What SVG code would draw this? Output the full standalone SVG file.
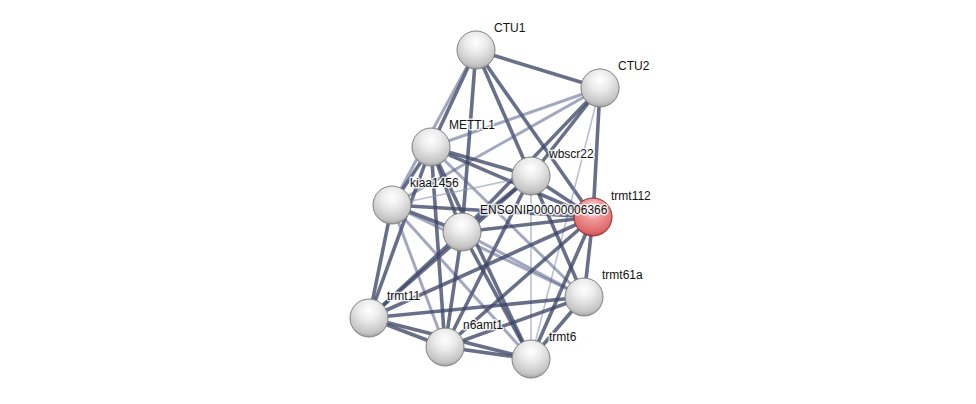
<svg xmlns="http://www.w3.org/2000/svg" width="976" height="404" viewBox="0 0 976 404">
<defs>
<radialGradient id="gw" cx="0.5" cy="0.3" r="0.75">
<stop offset="0" stop-color="#ffffff"/>
<stop offset="0.35" stop-color="#ececec"/>
<stop offset="0.8" stop-color="#c4c4c4"/>
<stop offset="1" stop-color="#8e8e8e"/>
</radialGradient>
<radialGradient id="gr" cx="0.5" cy="0.3" r="0.75">
<stop offset="0" stop-color="#ffffff"/>
<stop offset="0.35" stop-color="#f09a9a"/>
<stop offset="0.8" stop-color="#de6a6a"/>
<stop offset="1" stop-color="#a03a3a"/>
</radialGradient>
</defs>
<style>
.s{stroke:#3d4668;stroke-width:3.6;stroke-opacity:0.78;fill:none}
.m{stroke:#56608a;stroke-width:3;stroke-opacity:0.55;fill:none}
.l{stroke:#8d95b4;stroke-width:1.6;stroke-opacity:0.6;fill:none}
.n{fill:url(#gw);stroke:#808080;stroke-width:1}
.r{fill:url(#gr);stroke:#8a2a2a;stroke-width:1}
text{font-family:"Liberation Sans",Arial,sans-serif;font-size:12px;fill:#111;stroke:#fff;stroke-width:3;stroke-opacity:0.8;paint-order:stroke;stroke-linejoin:round}
</style>
<rect width="976" height="404" fill="#fff"/>
<g id="edges">
<line class="s" x1="476" y1="50" x2="600" y2="88"/>
<line class="s" x1="476" y1="50" x2="431" y2="147"/>
<line class="m" x1="476" y1="50" x2="392" y2="205"/>
<line class="s" x1="476" y1="50" x2="462" y2="232"/>
<line class="s" x1="476" y1="50" x2="531" y2="176"/>
<line class="s" x1="476" y1="50" x2="593" y2="217"/>
<line class="m" x1="600" y1="88" x2="431" y2="147"/>
<line class="m" x1="600" y1="88" x2="392" y2="205"/>
<line class="s" x1="600" y1="88" x2="531" y2="176"/>
<line class="s" x1="600" y1="88" x2="462" y2="232"/>
<line class="s" x1="600" y1="88" x2="593" y2="217"/>
<line class="l" x1="600" y1="88" x2="531" y2="359"/>
<line class="s" x1="431" y1="147" x2="392" y2="205"/>
<line class="s" x1="431" y1="147" x2="462" y2="232"/>
<line class="s" x1="431" y1="147" x2="531" y2="176"/>
<line class="s" x1="431" y1="147" x2="593" y2="217"/>
<line class="s" x1="431" y1="147" x2="369" y2="318"/>
<line class="s" x1="431" y1="147" x2="445" y2="347"/>
<line class="s" x1="431" y1="147" x2="531" y2="359"/>
<line class="m" x1="431" y1="147" x2="584" y2="297"/>
<line class="l" x1="531" y1="176" x2="392" y2="205"/>
<line class="s" x1="531" y1="176" x2="462" y2="232"/>
<line class="s" x1="531" y1="176" x2="593" y2="217"/>
<line class="s" x1="531" y1="176" x2="369" y2="318"/>
<line class="s" x1="531" y1="176" x2="445" y2="347"/>
<line class="l" x1="531" y1="176" x2="531" y2="359"/>
<line class="s" x1="531" y1="176" x2="584" y2="297"/>
<line class="s" x1="392" y1="205" x2="462" y2="232"/>
<line class="s" x1="392" y1="205" x2="593" y2="217"/>
<line class="s" x1="392" y1="205" x2="369" y2="318"/>
<line class="m" x1="392" y1="205" x2="445" y2="347"/>
<line class="m" x1="392" y1="205" x2="531" y2="359"/>
<line class="m" x1="392" y1="205" x2="584" y2="297"/>
<line class="s" x1="462" y1="232" x2="593" y2="217"/>
<line class="s" x1="462" y1="232" x2="369" y2="318"/>
<line class="s" x1="462" y1="232" x2="445" y2="347"/>
<line class="s" x1="462" y1="232" x2="531" y2="359"/>
<line class="m" x1="462" y1="232" x2="584" y2="297"/>
<line class="s" x1="593" y1="217" x2="369" y2="318"/>
<line class="s" x1="593" y1="217" x2="445" y2="347"/>
<line class="s" x1="593" y1="217" x2="531" y2="359"/>
<line class="s" x1="593" y1="217" x2="584" y2="297"/>
<line class="s" x1="369" y1="318" x2="584" y2="297"/>
<line class="s" x1="369" y1="318" x2="445" y2="347"/>
<line class="s" x1="369" y1="318" x2="531" y2="359"/>
<line class="s" x1="445" y1="347" x2="531" y2="359"/>
<line class="s" x1="445" y1="347" x2="584" y2="297"/>
<line class="s" x1="531" y1="359" x2="584" y2="297"/>
</g>
<g id="trmt112"><circle class="r" cx="593" cy="217" r="19"/><text x="611" y="200">trmt112</text></g>
<g id="CTU1"><circle class="n" cx="476" cy="50" r="19"/><text x="494" y="32">CTU1</text></g>
<g id="CTU2"><circle class="n" cx="600" cy="88" r="19"/><text x="618" y="70">CTU2</text></g>
<g id="METTL1"><circle class="n" cx="431" cy="147" r="19"/><text x="449" y="129">METTL1</text></g>
<g id="wbscr22"><circle class="n" cx="531" cy="176" r="19"/><text x="549" y="158">wbscr22</text></g>
<g id="kiaa1456"><circle class="n" cx="392" cy="205" r="19"/><text x="410" y="187">kiaa1456</text></g>
<g id="ENSONIP00000006366"><circle class="n" cx="462" cy="232" r="19"/><text x="480" y="214">ENSONIP00000006366</text></g>
<g id="trmt61a"><circle class="n" cx="584" cy="297" r="19"/><text x="602" y="279">trmt61a</text></g>
<g id="trmt11"><circle class="n" cx="369" cy="318" r="19"/><text x="387" y="300">trmt11</text></g>
<g id="n6amt1"><circle class="n" cx="445" cy="347" r="19"/><text x="463" y="329">n6amt1</text></g>
<g id="trmt6"><circle class="n" cx="531" cy="359" r="19"/><text x="549" y="341">trmt6</text></g>
</svg>
